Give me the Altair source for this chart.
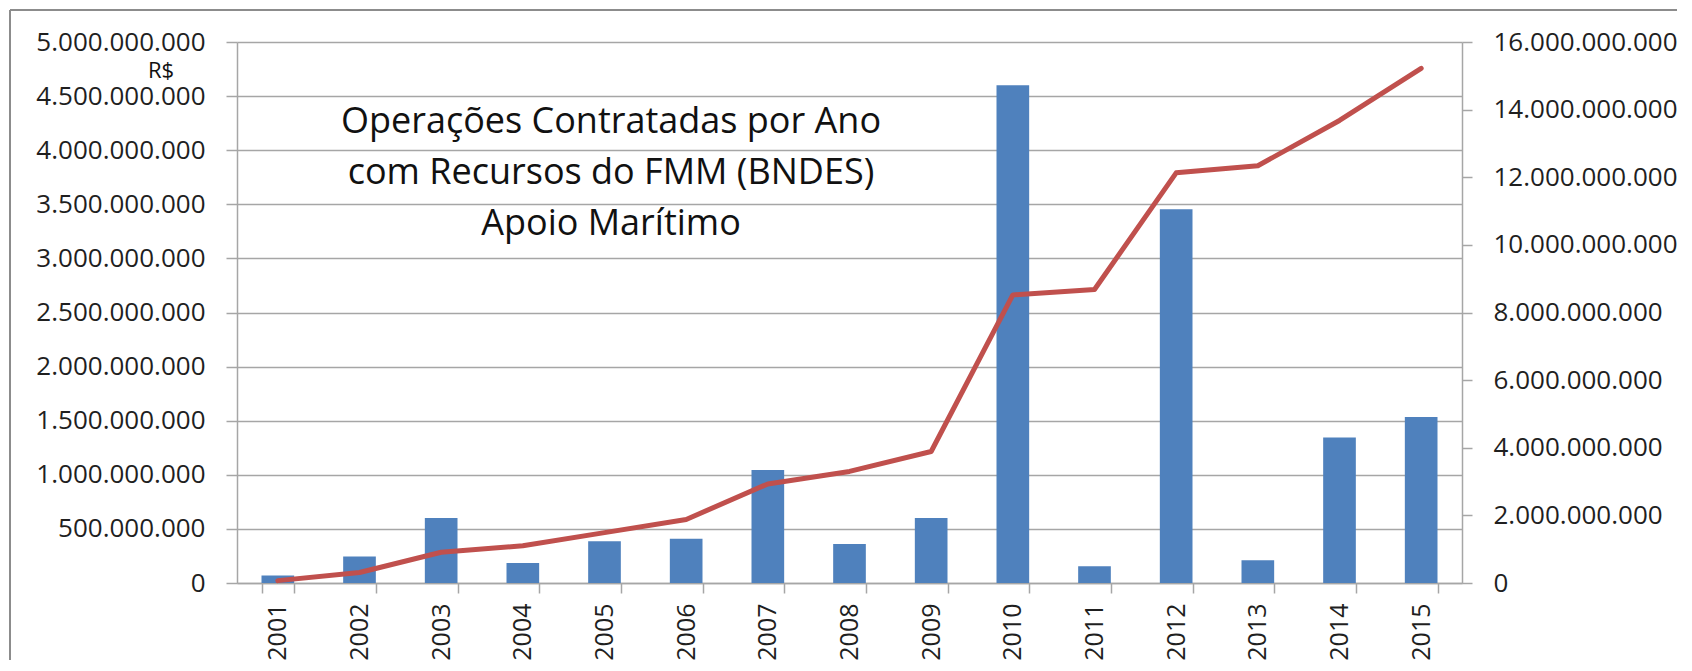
import altair as alt
import pandas as pd

years = ["2001", "2002", "2003", "2004", "2005", "2006", "2007", "2008",
         "2009", "2010", "2011", "2012", "2013", "2014", "2015"]
annual = [70e6, 245e6, 600e6, 185e6, 385e6, 410e6, 1045e6, 360e6,
          600e6, 4600e6, 155e6, 3455e6, 210e6, 1345e6, 1535e6]
cumulative = [0.07e9, 0.31e9, 0.91e9, 1.10e9, 1.49e9, 1.88e9, 2.93e9, 3.30e9,
              3.89e9, 8.52e9, 8.68e9, 12.13e9, 12.34e9, 13.68e9, 15.22e9]
left_ticks = [0, 0.5e9, 1e9, 1.5e9, 2e9, 2.5e9, 3e9, 3.5e9, 4e9, 4.5e9, 5e9]
right_ticks = [0, 2e9, 4e9, 6e9, 8e9, 10e9, 12e9, 14e9, 16e9]
title_lines = ["Operações Contratadas por Ano", "com Recursos do FMM (BNDES)", "Apoio Marítimo"]
unit_label = "R$"

df = pd.DataFrame({"year": years, "annual": annual, "cum": cumulative})
one = pd.DataFrame({"k": [0]})

W, H = 1225, 541
GRID = "#A6A6A6"
FONT = "Open Sans"
LBL = "#1f1f1f"
fmt = "replace(format(datum.value, ',d'), regexp(',', 'g'), '.')"

x = alt.X("year:N", sort=None,
          scale=alt.Scale(paddingInner=0.6, paddingOuter=0.3),
          axis=alt.Axis(title=None, labelAngle=-90, tickBand="extent",
                        labelFont=FONT, labelFontSize=25, labelColor=LBL,
                        labelPadding=10, tickSize=10, tickColor=GRID,
                        tickWidth=1.5, domainColor=GRID, domainWidth=1.5))

base = alt.Chart(df)

bars = base.mark_bar(color="#4F81BD").encode(
    x=x,
    y=alt.Y("annual:Q", scale=alt.Scale(domain=[0, 5e9], nice=False),
            axis=alt.Axis(title=None, values=left_ticks, labelExpr=fmt,
                          labelFont=FONT, labelFontSize=26, labelColor=LBL,
                          labelPadding=21, labelLimit=400, tickSize=11,
                          tickColor=GRID, tickWidth=1.5, grid=True,
                          gridColor=GRID, gridWidth=1.5, domainColor=GRID,
                          domainWidth=1.5)),
)

line = base.mark_line(color="#C0504D", strokeWidth=5, strokeCap="round",
                      strokeJoin="round").encode(
    x=x,
    y=alt.Y("cum:Q", scale=alt.Scale(domain=[0, 16e9], nice=False),
            axis=alt.Axis(title=None, orient="right", values=right_ticks,
                          labelExpr=fmt, labelFont=FONT, labelFontSize=26,
                          labelColor=LBL, labelPadding=21, labelLimit=400,
                          tickSize=10, tickColor=GRID, tickWidth=1.5,
                          grid=False, domainColor=GRID, domainWidth=1.5)),
)

deco = alt.Chart(one)
title = deco.mark_text(text=title_lines, font=FONT, fontSize=36,
                       color="#111111", align="center", baseline="alphabetic",
                       lineHeight=51).encode(x=alt.value(374), y=alt.value(91))
unit = deco.mark_text(text=unit_label, font=FONT, fontSize=22,
                      color="#111111", align="center",
                      baseline="alphabetic").encode(x=alt.value(-76), y=alt.value(36))
top_border = deco.mark_rule(color="#8C8C8C", strokeWidth=2).encode(
    x=alt.value(-227), x2=alt.value(1440), y=alt.value(-32))
left_border = deco.mark_rule(color="#8C8C8C", strokeWidth=2).encode(
    x=alt.value(-227), y=alt.value(-32), y2=alt.value(618))

chart = alt.layer(bars, line, title, unit, top_border, left_border).resolve_scale(
    y="independent"
).properties(
    width=W, height=H,
    padding={"left": 1, "top": 1, "right": 0, "bottom": 0},
    background="white",
).configure_view(strokeWidth=0)

chart.save("out.html", embed_options={"renderer": "svg", "actions": False})
